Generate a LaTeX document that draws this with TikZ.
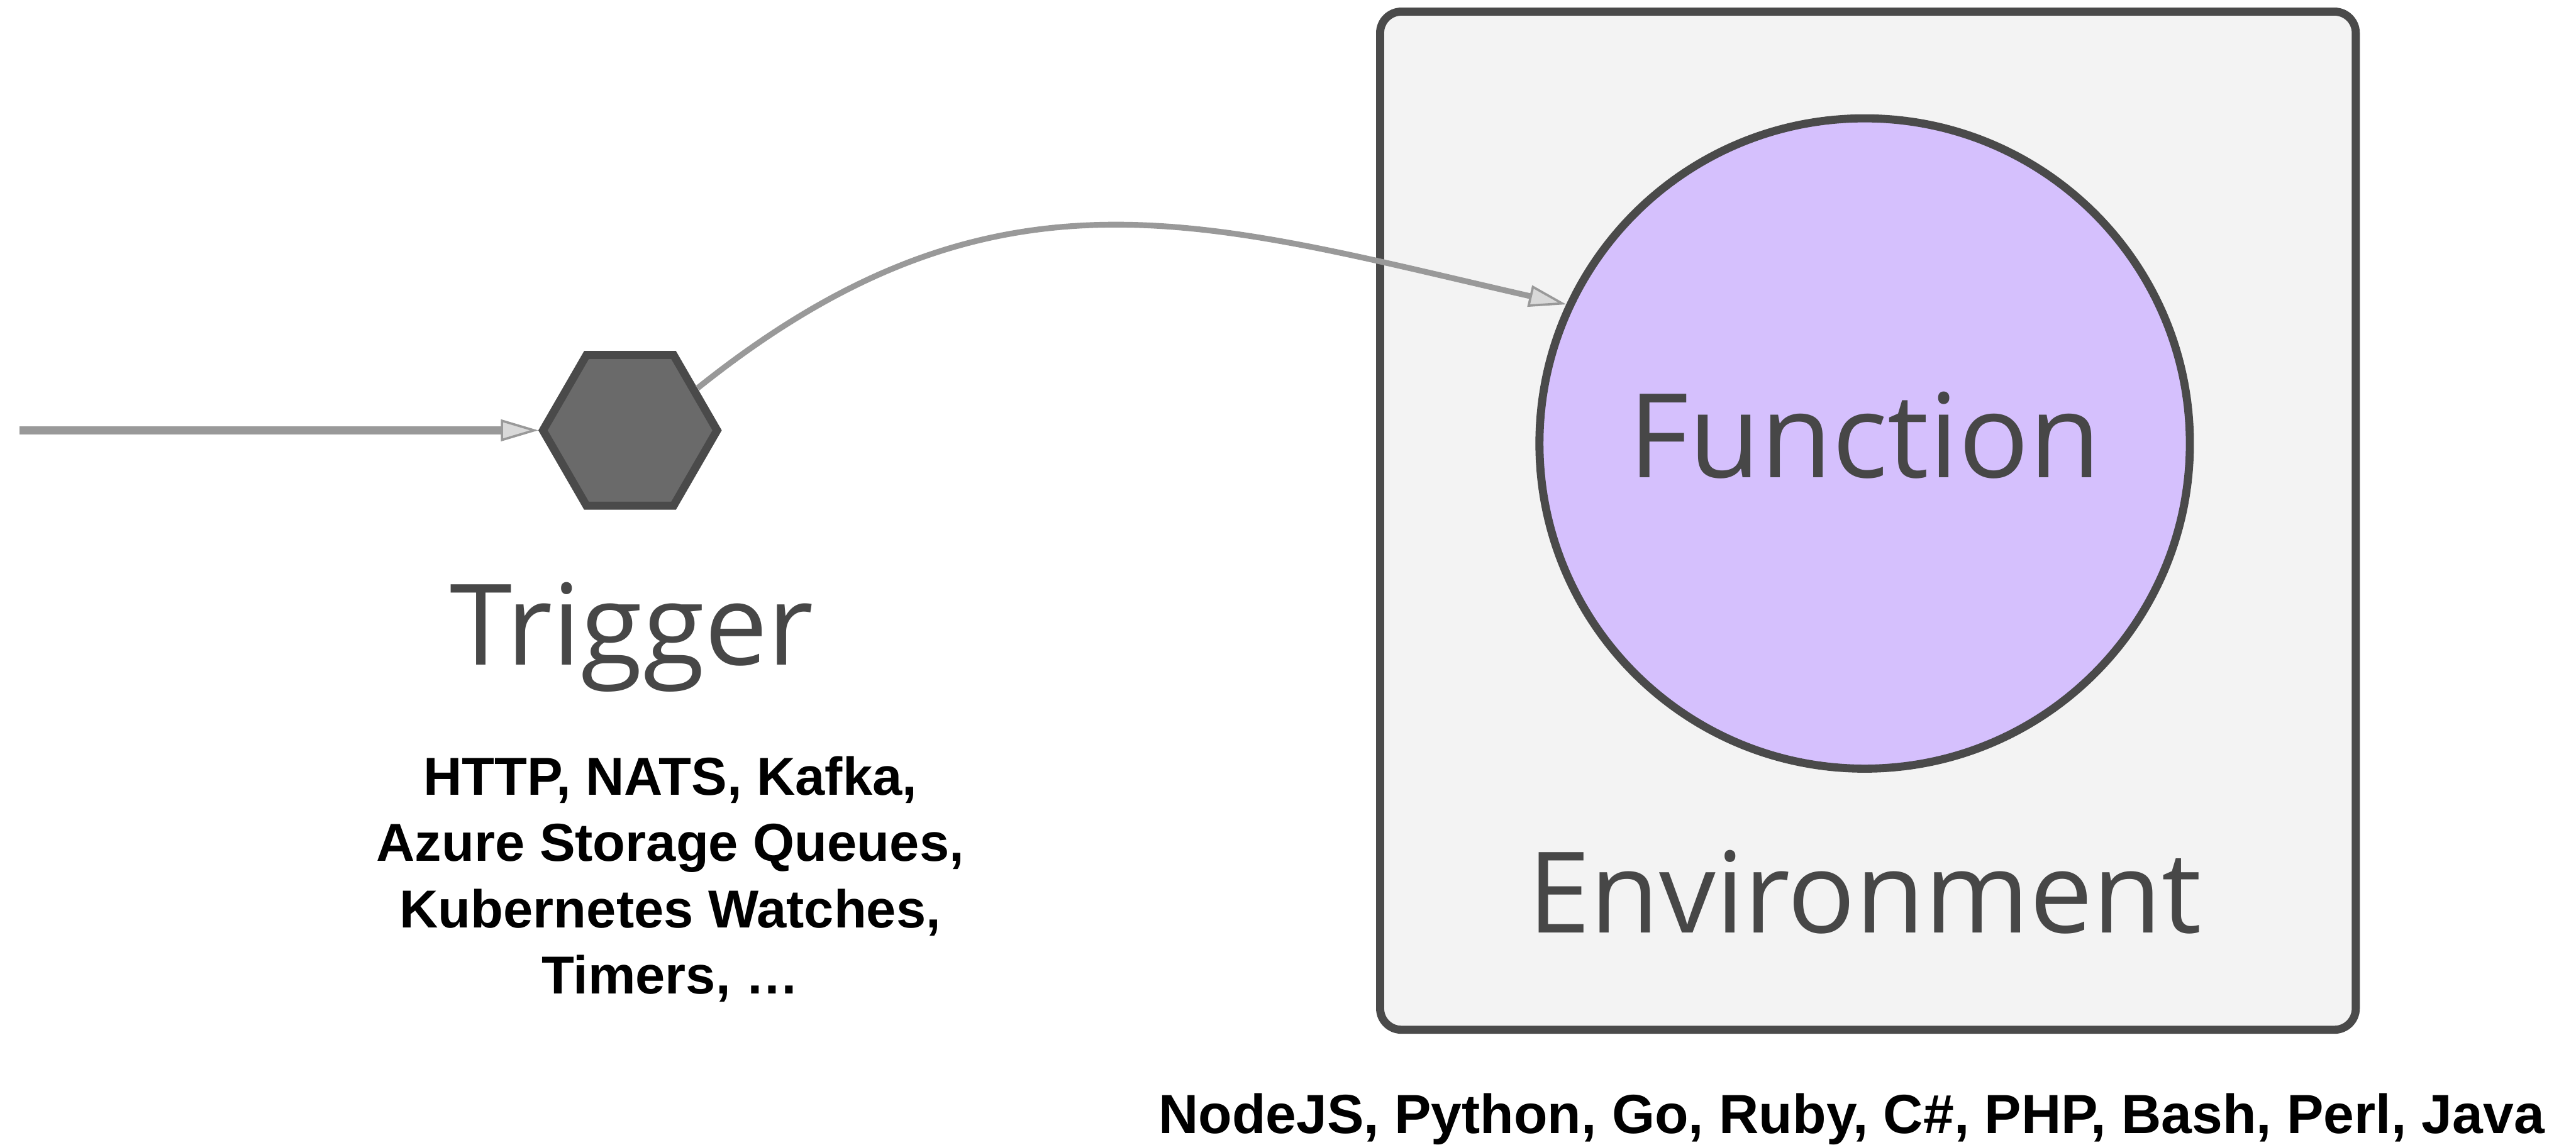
\documentclass[tikz,border=0pt]{standalone}
\usepackage{fontspec}
\setmainfont{Liberation Sans}
\newfontfamily\labelfont{Open Sans}
\usetikzlibrary{positioning, shapes.geometric, arrows.meta}
\definecolor{boxgray}{HTML}{F3F3F3}
\definecolor{edgegray}{HTML}{4A4A4A}
\definecolor{hexgray}{HTML}{6A6A6A}
\definecolor{fnviolet}{HTML}{D5C0FD}
\definecolor{linegray}{HTML}{999999}
\definecolor{tipgray}{HTML}{D9D9D9}
\definecolor{textgray}{HTML}{474747}

\begin{document}
\begin{tikzpicture}[x=0.02cm, y=-0.02cm,
		envbox/.style={rectangle, rounded corners=0.26cm, draw=edgegray, fill=boxgray, line width=2.8pt, minimum width=11.88cm, minimum height=12.4cm},
		fct/.style={circle, draw=edgegray, fill=fnviolet, line width=2.8pt, minimum size=7.92cm, inner sep=0pt},
		hex/.style={regular polygon, regular polygon sides=6, draw=edgegray, fill=hexgray, line width=2.8pt, minimum size=2.12cm, inner sep=0pt},
		big/.style={font=\labelfont\fontsize{39}{47}\selectfont, text=textgray},
		note/.style={font=\bfseries\fontsize{18.5}{23}\selectfont, align=center, inner sep=0pt},
		flow/.style={draw=linegray, -{Triangle[length=13pt, width=7.5pt, fill=tipgray, line width=0.8pt]}}]
		\useasboundingbox (0,0) rectangle (1568,697);

		\node[envbox] (env) at (1137,317) {};
		\node[fct] (fn) at (1135,270) {};
		\node[big, font=\labelfont\fontsize{40.5}{48}\selectfont] (fnlbl) at (1135,265) {Function};
		\node[big] (envlbl) at (1135,543) {Environment};

		\node[hex] (trig) at (383.5,262) {};
		\node[big, anchor=base] (triglbl) at (384.5,405) {Trigger};
		\node[note, anchor=north] (trignote) at (408,460) {HTTP, NATS, Kafka,\\Azure Storage Queues,\\Kubernetes Watches,\\Timers, …};

		\node[note, font=\bfseries\fontsize{19.1}{23}\selectfont, anchor=base] (langs) at (1127,690) {NodeJS, Python, Go, Ruby, C\#, PHP, Bash, Perl, Java};

		\coordinate (src) at (12,262);
		\draw[flow, line width=3pt] (src) -- (trig);
		\draw[flow, line width=2pt] (trig.32) .. controls (606,91) and (733,135) .. (fn.155);
	\end{tikzpicture}
\end{document}
